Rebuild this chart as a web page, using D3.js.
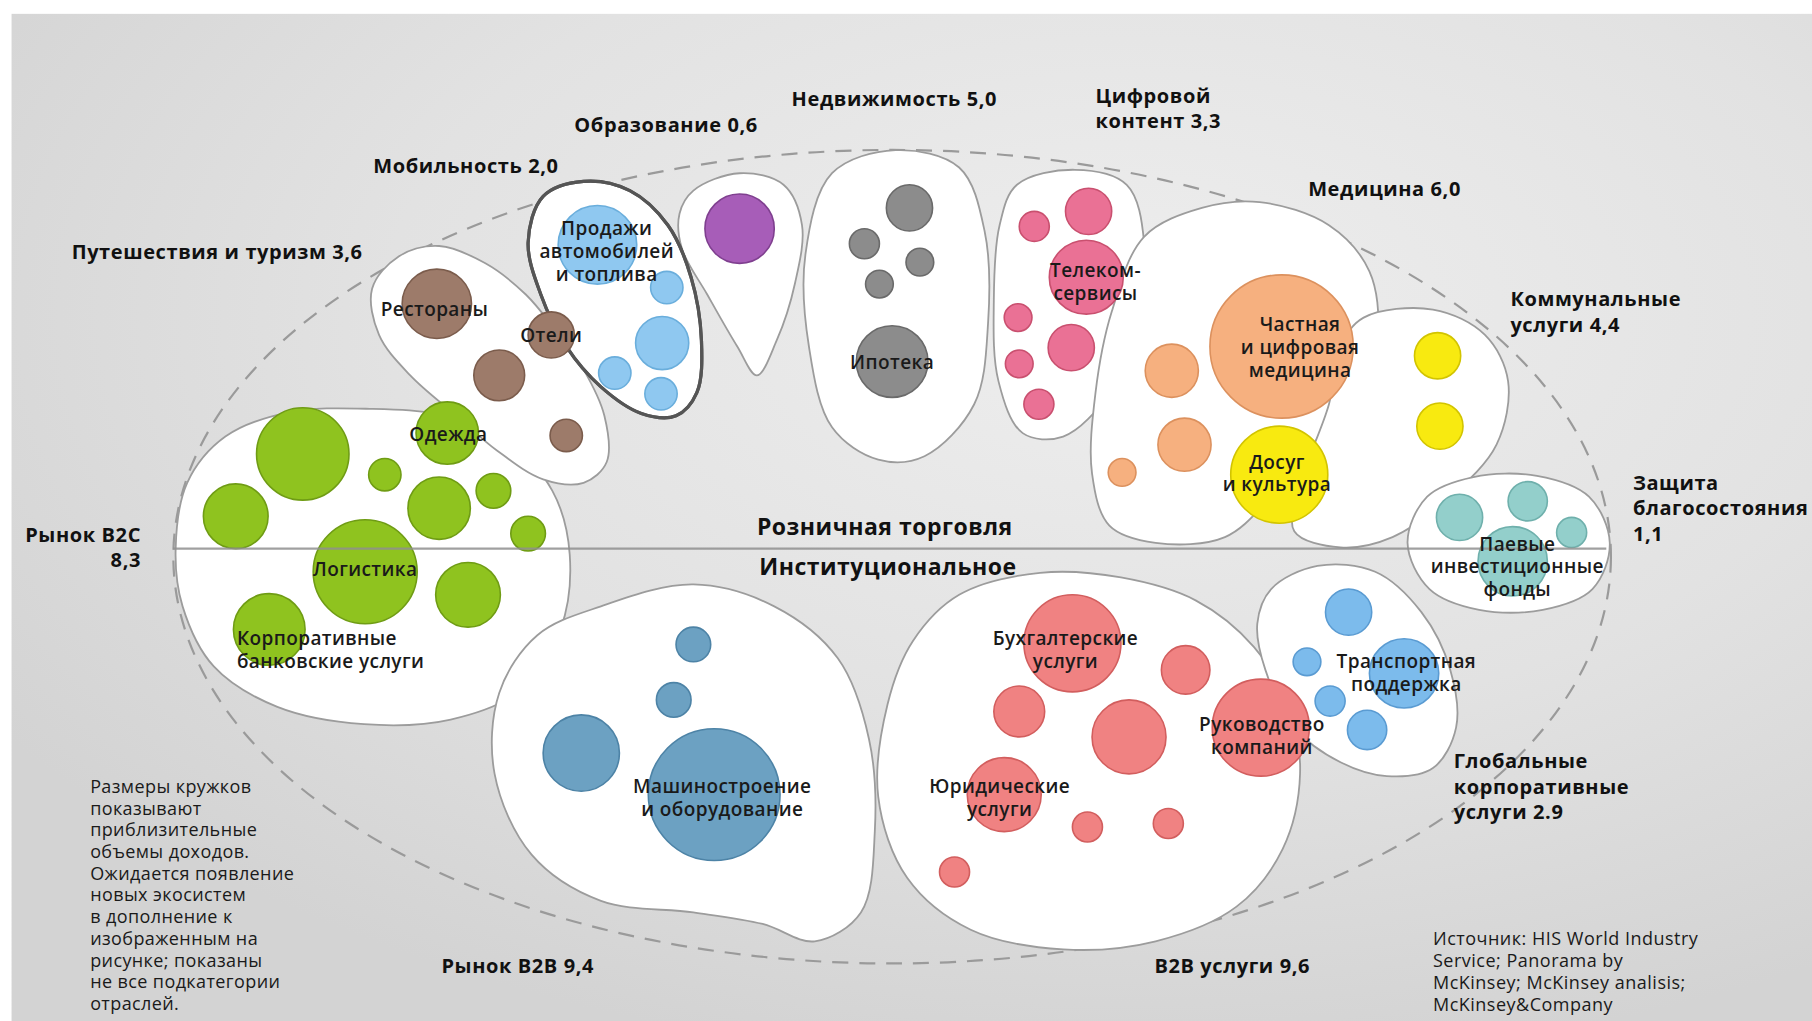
<!DOCTYPE html>
<html>
<head>
<meta charset="utf-8">
<script src="https://cdn.jsdelivr.net/npm/d3@7"></script>
<style>
  html, body { margin: 0; padding: 0; background: #fff; }
  svg { display: block; }
</style>
</head>
<body>
<div id="chart"></div>
<script>
// Ecosystem map: sectors as blobs, sub-industries as bubbles.
// Layout grid is 1568 x 884 units, mapped onto the page by linear scales.
const W = 1812, H = 1021;

// sector outlines (layout units)
const outlineB2C = [[152,475],[162,418],[195,378],[250,357],[320,354],[385,360],[440,383],[478,425],[493,480],[485,545],[450,598],[390,623],[315,627],[240,612],[185,577],[158,525]];
const outlineTravel = [[322,250],[345,222],[380,213],[420,228],[455,255],[480,285],[505,320],[523,360],[525,400],[505,418],[470,415],[430,390],[395,360],[355,325],[328,290]];
const outlineMobility = [[470,170],[505,157],[545,165],[578,195],[598,240],[607,295],[603,340],[585,360],[555,358],[520,335],[490,300],[468,255],[457,210]];
const outlineEducation = [[600,165],[640,150],[678,160],[694,195],[688,245],[672,295],[655,325],[638,300],[612,255],[590,215],[588,185]];
const outlineRealEstate = [[720,150],[775,130],[830,145],[852,200],[855,280],[843,350],[800,395],[760,398],[720,370],[700,300],[697,220]];
const outlineDigital = [[880,160],[930,147],[975,160],[990,210],[982,280],[960,340],[920,378],[885,375],[864,330],[860,260],[865,195]];
const outlineMedicine = [[990,205],[1040,180],[1090,175],[1150,195],[1185,235],[1192,290],[1175,340],[1140,380],[1100,430],[1060,465],[1000,470],[960,455],[945,410],[948,340],[962,270]];
const outlineUtilities = [[1180,275],[1240,268],[1285,290],[1305,330],[1295,385],[1255,430],[1205,465],[1160,474],[1120,460],[1125,420],[1150,350],[1160,300]];
const outlineWealth = [[1218,470],[1235,430],[1275,413],[1330,412],[1375,430],[1393,470],[1378,510],[1335,528],[1280,528],[1237,510]];
const outlineB2BServices = [[830,515],[900,496],[970,500],[1035,520],[1085,560],[1115,610],[1125,670],[1110,735],[1070,785],[1000,815],[920,822],[840,805],[785,760],[760,690],[768,610],[790,555]];
const outlineGlobal = [[1100,510],[1140,490],[1190,495],[1230,530],[1255,580],[1260,630],[1240,665],[1200,672],[1160,660],[1120,630],[1095,580],[1088,540]];
const outlineB2BMarket = [[520,525],[600,506],[670,525],[725,570],[752,640],[757,720],[745,790],[705,815],[660,800],[600,790],[520,780],[460,740],[428,670],[432,600],[465,550]];

// bubbles: [x, y, size]
const bubblesB2C = [[262,393,40],[333,411,14],[387,375,27],[427,425,15],[380,440,27],[204,447,28],[457,462,15],[316,495,45],[405,515,28],[233,545,31]];
const bubblesTravel = [[378,263,30],[477,290,20],[432,325,22],[490,377,14]];
const bubblesMobility = [[517,212,34],[577,249,14],[573,297,23],[532,323,14],[572,341,14]];
const bubblesEducation = [[640,198,30]];
const bubblesRealEstate = [[787,180,20],[748,211,13],[796,227,12],[761,246,12],[772,313,31]];
const bubblesDigital = [[942,183,20],[895,196,13],[940,240,32],[881,275,12],[927,301,20],[882,315,12],[899,350,13]];
const bubblesMedicine = [[1109,300,62],[1014,321,23],[1025,385,23],[971,409,12]];
const bubblesLeisure = [[1107,411,42]];
const bubblesUtilities = [[1244,308,20],[1246,369,20]];
const bubblesWealth = [[1263,448,20],[1322,434,17],[1360,461,13],[1309,486,30]];
const bubblesGlobal = [[1167,530,20],[1131,573,12],[1215,583,30],[1151,607,13],[1183,632,17]];
const bubblesB2BServices = [[928,557,42],[1026,580,21],[882,616,22],[977,638,32],[1091,630,42],[869,688,32],[941,716,13],[1011,713,13],[826,755,13]];
const bubblesB2BMarket = [[600,558,15],[583,606,15],[503,652,33],[618,688,57]];

// bubble captions: [x, y, anchor, lines]
const bubbleLabels = [
  [376,268,"middle",["Рестораны"]],
  [477,290,"middle",["Отели"]],
  [525,198,"middle",["Продажи","автомобилей","и топлива"]],
  [772,314,"middle",["Ипотека"]],
  [948,234,"middle",["Телеком-","сервисы"]],
  [1125,281,"middle",["Частная","и цифровая","медицина"]],
  [1105,400,"middle",["Досуг","и культура"]],
  [388,376,"middle",["Одежда"]],
  [316,493,"middle",["Логистика"]],
  [205,553,"start",["Корпоративные","банковские услуги"]],
  [1313,471,"middle",["Паевые","инвестиционные","фонды"]],
  [922,553,"middle",["Бухгалтерские","услуги"]],
  [1092,627,"middle",["Руководство","компаний"]],
  [865,681,"middle",["Юридические","услуги"]],
  [1217,573,"middle",["Транспортная","поддержка"]],
  [625,681,"middle",["Машиностроение","и оборудование"]]
];

// sector titles with revenue: [x, y, anchor, lines]
const sectorLabels = [
  [62,218,"start",["Путешествия и туризм 3,6"]],
  [323,144,"start",["Мобильность 2,0"]],
  [497,108,"start",["Образование 0,6"]],
  [685,86,"start",["Недвижимость 5,0"]],
  [948,83,"start",["Цифровой","контент 3,3"]],
  [1132,164,"start",["Медицина 6,0"]],
  [1307,259,"start",["Коммунальные","услуги 4,4"]],
  [1413,418,"start",["Защита","благосостояния","1,1"]],
  [122,463,"end",["Рынок B2C","8,3"]],
  [1258,659,"start",["Глобальные","корпоративные","услуги 2.9"]],
  [382,836,"start",["Рынок B2B 9,4"]],
  [999,836,"start",["B2B услуги 9,6"]]
];

const axisLabels = [[655,456,"Розничная торговля"],[657,491,"Институциональное"]];

const noteLines = ["Размеры кружков","показывают","приблизительные","объемы доходов.","Ожидается появление","новых экосистем","в дополнение к","изображенным на","рисунке; показаны","не все подкатегории","отраслей."];
const sourceLines = ["Источник: HIS World Industry","Service; Panorama by","McKinsey; McKinsey analisis;","McKinsey&Company"];

const palette = {
  b2c: ["#8fc31f", "#6f9c14"],
  travel: ["#9d7b6a", "#7b5c4c"],
  mobility: ["#8fc8f0", "#6aaedc"],
  education: ["#a75db8", "#7f3f8f"],
  realEstate: ["#8c8c8c", "#6a6a6a"],
  digital: ["#ea7195", "#c9506f"],
  medicine: ["#f6b07f", "#dc915e"],
  leisure: ["#f8ea10", "#d2c400"],
  utilities: ["#f8ea10", "#d2c400"],
  wealth: ["#93cfcb", "#6fb0ac"],
  global: ["#7cbbec", "#5a9bd2"],
  b2bServices: ["#f08282", "#d25e5e"],
  b2bMarket: ["#6ca1c2", "#4d83a6"]
};

const blobs = [
  ["b2c", outlineB2C], ["travel", outlineTravel], ["education", outlineEducation],
  ["mobility", outlineMobility], ["realEstate", outlineRealEstate], ["digital", outlineDigital],
  ["medicine", outlineMedicine], ["utilities", outlineUtilities], ["wealth", outlineWealth],
  ["b2bServices", outlineB2BServices], ["global", outlineGlobal], ["b2bMarket", outlineB2BMarket]
];

const bubbleSets = [
  ["b2c", bubblesB2C], ["travel", bubblesTravel], ["mobility", bubblesMobility],
  ["education", bubblesEducation], ["realEstate", bubblesRealEstate], ["digital", bubblesDigital],
  ["medicine", bubblesMedicine], ["leisure", bubblesLeisure], ["utilities", bubblesUtilities],
  ["wealth", bubblesWealth], ["global", bubblesGlobal], ["b2bServices", bubblesB2BServices],
  ["b2bMarket", bubblesB2BMarket]
];

// scales
const x = d3.scaleLinear().domain([0, 1568]).range([0, W]);
const y = d3.scaleLinear().domain([0, 884]).range([0, H]);
const r = d3.scaleLinear().domain([0, 1568]).range([0, W]);

const svg = d3.select("#chart").append("svg")
  .attr("width", W)
  .attr("height", H);

// background
const defs = svg.append("defs");
const bg = defs.append("radialGradient").attr("id", "bg")
  .attr("cx", "62%").attr("cy", "30%").attr("r", "75%");
bg.append("stop").attr("offset", "0%").attr("stop-color", "#eeeeee");
bg.append("stop").attr("offset", "55%").attr("stop-color", "#e2e2e2");
bg.append("stop").attr("offset", "100%").attr("stop-color", "#d3d3d3");

svg.append("rect").attr("width", W).attr("height", H).attr("fill", "#fff");
svg.append("rect")
  .attr("x", x(10)).attr("y", y(12))
  .attr("width", W - x(10)).attr("height", H - y(12))
  .attr("fill", "url(#bg)");

// dashed outer boundary
svg.append("ellipse")
  .attr("cx", x(772)).attr("cy", y(482))
  .attr("rx", r(622)).attr("ry", r(352))
  .attr("fill", "none")
  .attr("stroke", "#9a9a9a")
  .attr("stroke-width", 2.2)
  .attr("stroke-dasharray", "16 11");

// sector blobs
const blobLine = d3.line()
  .x(d => x(d[0]))
  .y(d => y(d[1]))
  .curve(d3.curveCatmullRomClosed.alpha(0.5));

const blobG = svg.append("g");
blobs.forEach(([id, pts]) => {
  blobG.append("path")
    .attr("d", blobLine(pts))
    .attr("fill", "#fff")
    .attr("stroke", id === "mobility" ? "#555" : "#9c9c9c")
    .attr("stroke-width", id === "mobility" ? 3.2 : 1.8);
});
// the highlighted mobility outline stays on top
blobG.append("path")
  .attr("d", blobLine(outlineMobility))
  .attr("fill", "none")
  .attr("stroke", "#555")
  .attr("stroke-width", 3.2);

// bubbles
const bubbleG = svg.append("g");
bubbleSets.forEach(([id, list]) => {
  bubbleG.selectAll(null)
    .data(list)
    .enter()
    .append("circle")
    .attr("cx", d => x(d[0]))
    .attr("cy", d => y(d[1]))
    .attr("r", d => r(d[2]))
    .attr("fill", palette[id][0])
    .attr("stroke", palette[id][1])
    .attr("stroke-width", 1.6);
});

// divider between retail and institutional
svg.append("line")
  .attr("x1", x(150)).attr("x2", x(1390))
  .attr("y1", y(475)).attr("y2", y(475))
  .attr("stroke", "#8f8f8f")
  .attr("stroke-opacity", 0.85)
  .attr("stroke-width", 2.4);

const font = "'Open Sans', 'Noto Sans', sans-serif";

// bubble captions
const capG = svg.append("g")
  .attr("font-family", font)
  .attr("font-size", 19)
  .attr("font-weight", 600)
  .attr("letter-spacing", 0.4)
  .attr("fill", "#1a1a1a");
bubbleLabels.forEach(([cx, cy, anchor, lines]) => {
  const t = capG.append("text").attr("text-anchor", anchor).attr("y", y(cy));
  lines.forEach((s, i) => {
    t.append("tspan").attr("x", x(cx)).attr("dy", i === 0 ? "0.35em" : "1.2em").text(s);
  });
});

// sector titles
const secG = svg.append("g")
  .attr("font-family", font)
  .attr("font-size", 20)
  .attr("font-weight", 700)
  .attr("letter-spacing", 0.6)
  .attr("fill", "#111");
sectorLabels.forEach(([lx, ly, anchor, lines]) => {
  const t = secG.append("text").attr("text-anchor", anchor).attr("y", y(ly));
  lines.forEach((s, i) => {
    t.append("tspan").attr("x", x(lx)).attr("dy", i === 0 ? "0.35em" : "1.27em").text(s);
  });
});

// retail / institutional captions
svg.append("g")
  .attr("font-family", font)
  .attr("font-size", 23)
  .attr("font-weight", 700)
  .attr("letter-spacing", 0.5)
  .attr("fill", "#111")
  .selectAll("text")
  .data(axisLabels)
  .enter()
  .append("text")
  .attr("x", d => x(d[0]))
  .attr("y", d => y(d[1]))
  .attr("dy", "0.35em")
  .text(d => d[2]);

// footnote and source
const noteG = svg.append("g")
  .attr("font-family", font)
  .attr("font-size", 18)
  .attr("font-weight", 500)
  .attr("letter-spacing", 0.4)
  .attr("fill", "#1a1a1a");
noteG.selectAll("text.note")
  .data(noteLines)
  .enter()
  .append("text")
  .attr("class", "note")
  .attr("x", x(78))
  .attr("y", (d, i) => y(681 + i * 18.8))
  .attr("dy", "0.35em")
  .text(d => d);
noteG.selectAll("text.src")
  .data(sourceLines)
  .enter()
  .append("text")
  .attr("class", "src")
  .attr("x", x(1240))
  .attr("y", (d, i) => y(813 + i * 19))
  .attr("dy", "0.35em")
  .attr("font-size", 18)
  .attr("letter-spacing", 0.5)
  .text(d => d);
</script>
</body>
</html>
